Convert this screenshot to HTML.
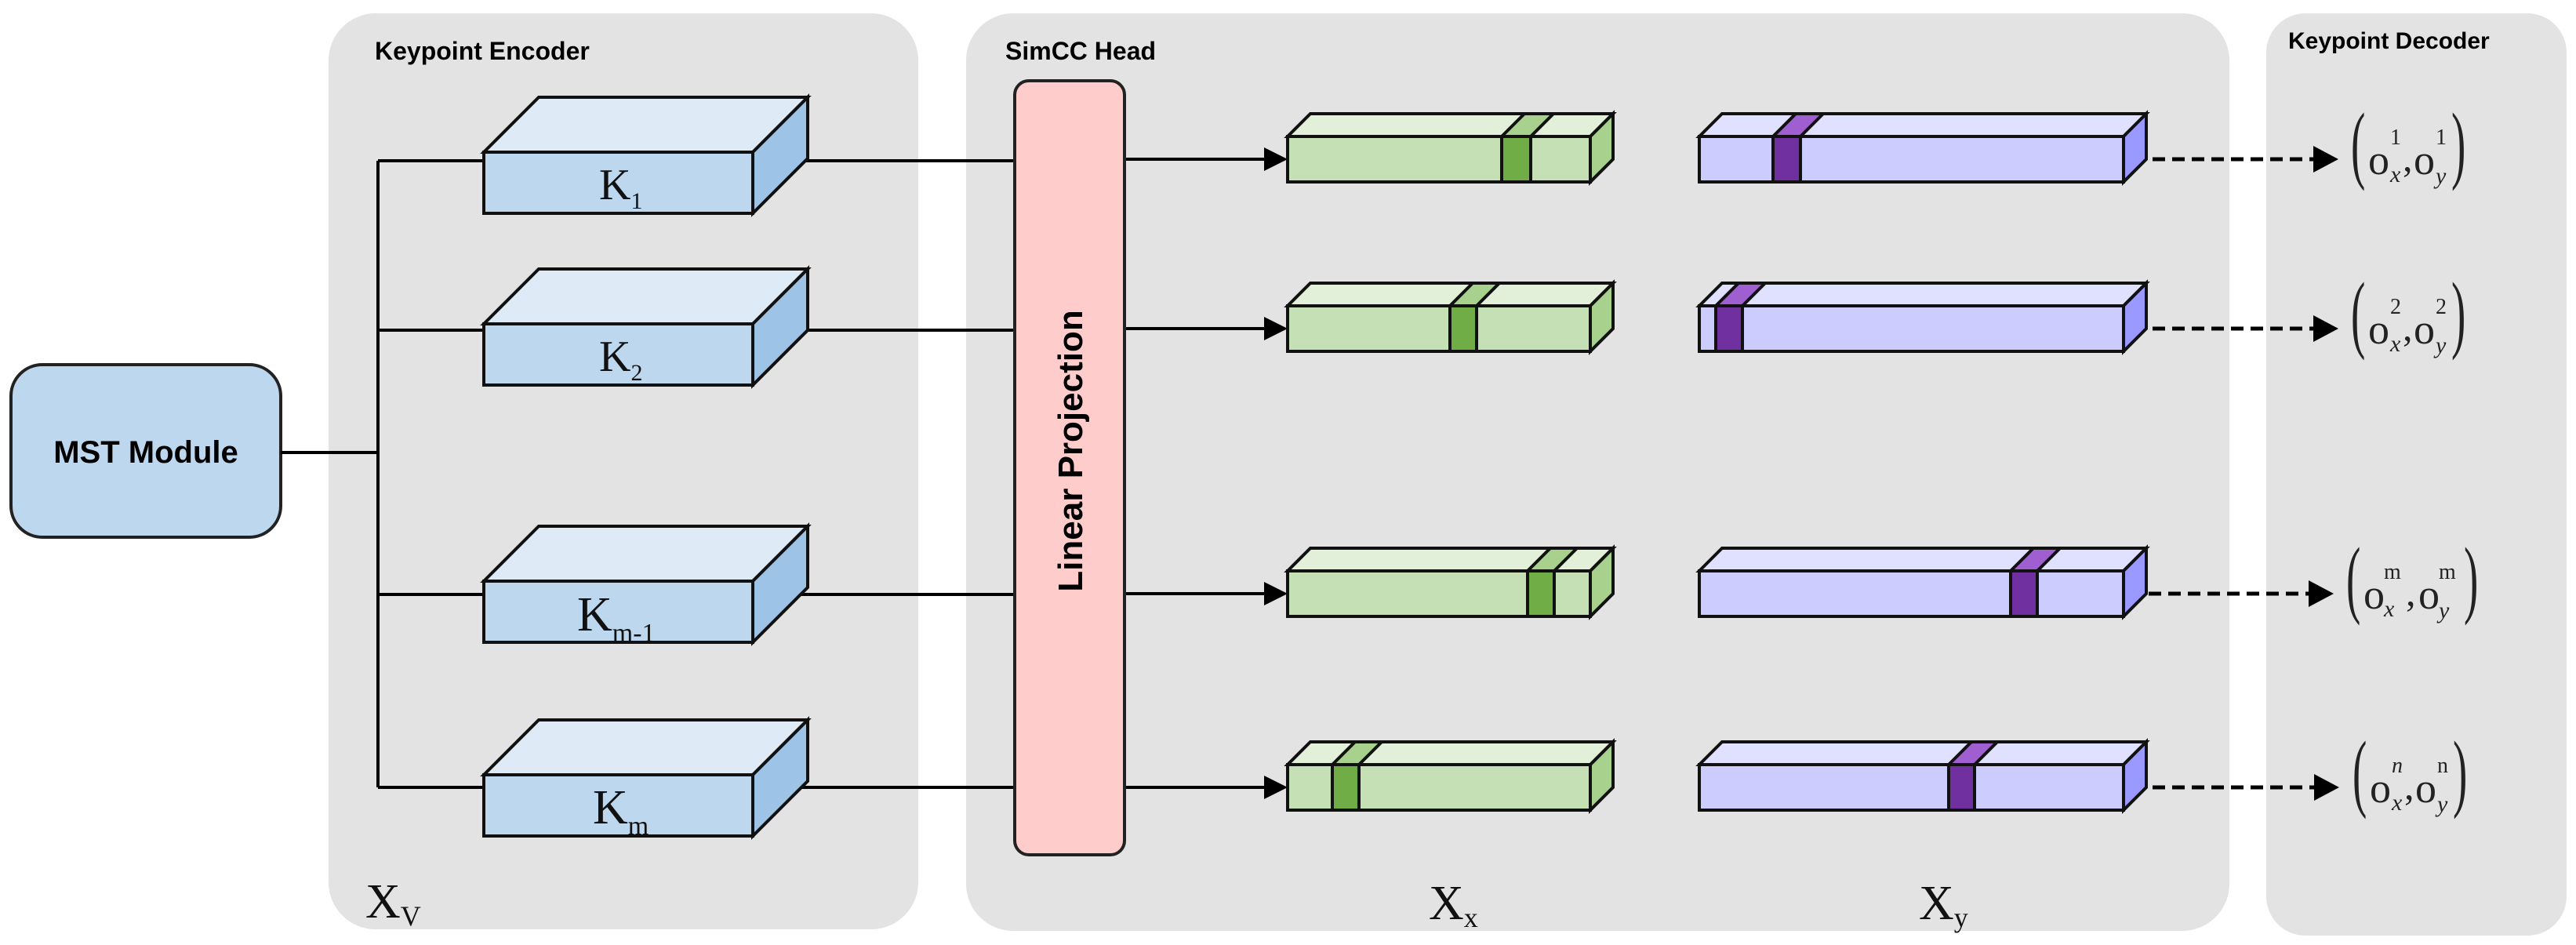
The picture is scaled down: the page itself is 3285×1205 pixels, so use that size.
<!DOCTYPE html>
<html><head><meta charset="utf-8"><style>
html,body{margin:0;padding:0;background:#fff}
svg{display:block}
.t{font-family:"Liberation Sans",sans-serif;font-weight:bold}
.s{font-family:"Liberation Serif",serif}
</style></head><body>
<svg width="3285" height="1205" viewBox="0 0 3285 1205" xmlns="http://www.w3.org/2000/svg">
<!-- panels -->
<rect x="419" y="17" width="752" height="1168" rx="60" fill="#e3e3e3"/>
<rect x="1232" y="17" width="1611" height="1170" rx="60" fill="#e3e3e3"/>
<rect x="2890" y="17" width="383" height="1176" rx="50" fill="#e3e3e3"/>
<text class="t" x="478" y="76" font-size="32">Keypoint Encoder</text>
<text class="t" x="1282" y="76" font-size="32">SimCC Head</text>
<text class="t" x="2918" y="62" font-size="30">Keypoint Decoder</text>

<!-- MST -->
<rect x="14" y="465" width="344" height="220" rx="40" fill="#bdd7ee" stroke="#222" stroke-width="4"/>
<text class="t" x="186" y="590" font-size="40" text-anchor="middle">MST Module</text>

<g stroke="#000" stroke-width="4" fill="none">
<line x1="358" y1="577" x2="482" y2="577"/>
<line x1="482" y1="205" x2="482" y2="1004"/>
<line x1="482" y1="205" x2="617" y2="205"/>
<line x1="482" y1="421" x2="617" y2="421"/>
<line x1="482" y1="758" x2="617" y2="758"/>
<line x1="482" y1="1004" x2="617" y2="1004"/>
<line x1="993" y1="205" x2="1293" y2="205"/>
<line x1="993" y1="421" x2="1293" y2="421"/>
<line x1="993" y1="758" x2="1293" y2="758"/>
<line x1="993" y1="1004" x2="1293" y2="1004"/>
<line x1="1434" y1="203" x2="1615" y2="203"/>
<line x1="1434" y1="419" x2="1615" y2="419"/>
<line x1="1434" y1="757" x2="1615" y2="757"/>
<line x1="1434" y1="1004" x2="1615" y2="1004"/>
</g>
<g fill="#000">
<path d="M1612,188L1642,203L1612,218z"/>
<path d="M1612,404L1642,419L1612,434z"/>
<path d="M1612,742L1642,757L1612,772z"/>
<path d="M1612,989L1642,1004L1612,1019z"/>
</g>

<!-- K boxes -->
<g stroke="#111" stroke-width="4" stroke-linejoin="miter">
<g transform="translate(0,194)">
<path d="M617,0L687,-70L1030,-70L960,0z" fill="#deebf7"/>
<path d="M960,0L1030,-70L1030,8L960,78z" fill="#9dc3e6"/>
<rect x="617" y="0" width="343" height="78" fill="#bdd7ee"/>
</g>
<g transform="translate(0,413)">
<path d="M617,0L687,-70L1030,-70L960,0z" fill="#deebf7"/>
<path d="M960,0L1030,-70L1030,8L960,78z" fill="#9dc3e6"/>
<rect x="617" y="0" width="343" height="78" fill="#bdd7ee"/>
</g>
<g transform="translate(0,741)">
<path d="M617,0L687,-70L1030,-70L960,0z" fill="#deebf7"/>
<path d="M960,0L1030,-70L1030,8L960,78z" fill="#9dc3e6"/>
<rect x="617" y="0" width="343" height="78" fill="#bdd7ee"/>
</g>
<g transform="translate(0,988)">
<path d="M617,0L687,-70L1030,-70L960,0z" fill="#deebf7"/>
<path d="M960,0L1030,-70L1030,8L960,78z" fill="#9dc3e6"/>
<rect x="617" y="0" width="343" height="78" fill="#bdd7ee"/>
</g>
</g>
<g class="s" fill="#111">
<text x="764" y="254" font-size="56">K<tspan font-size="30" dy="12">1</tspan></text>
<text x="764" y="473" font-size="56">K<tspan font-size="30" dy="12">2</tspan></text>
<text x="736" y="804" font-size="62">K<tspan font-size="34" dy="14">m-1</tspan></text>
<text x="756" y="1050" font-size="62">K<tspan font-size="34" dy="14">m</tspan></text>
</g>

<!-- Linear projection -->
<rect x="1294" y="103" width="140" height="987" rx="18" fill="#ffcccc" stroke="#222" stroke-width="4"/>
<text class="t" font-size="44" text-anchor="middle" transform="translate(1380,575) rotate(-90)">Linear Projection</text>

<!-- green & purple rows -->
<g stroke="#111" stroke-width="4">
<g transform="translate(0,203)">
<path d="M1642,-29L1671,-58L2057,-58L2028,-29z" fill="#e2f0d9"/>
<path d="M2028,-29L2057,-58L2057,0L2028,29z" fill="#a9d18e"/>
<rect x="1642" y="-29" width="386" height="58" fill="#c5e0b4"/>
<path d="M1915,-29L1944,-58L1981,-58L1952,-29z" fill="#a9d18e"/>
<rect x="1915" y="-29" width="37" height="58" fill="#70ad47"/>
<path d="M2167,-29L2196,-58L2737,-58L2708,-29z" fill="#e0e0ff"/>
<path d="M2708,-29L2737,-58L2737,0L2708,29z" fill="#9999ff"/>
<rect x="2167" y="-29" width="541" height="58" fill="#ccccff"/>
<path d="M2261,-29L2290,-58L2325,-58L2296,-29z" fill="#a05fd0"/>
<rect x="2261" y="-29" width="35" height="58" fill="#7030a0"/>
</g>
<g transform="translate(0,419)">
<path d="M1642,-29L1671,-58L2057,-58L2028,-29z" fill="#e2f0d9"/>
<path d="M2028,-29L2057,-58L2057,0L2028,29z" fill="#a9d18e"/>
<rect x="1642" y="-29" width="386" height="58" fill="#c5e0b4"/>
<path d="M1849,-29L1878,-58L1912,-58L1883,-29z" fill="#a9d18e"/>
<rect x="1849" y="-29" width="34" height="58" fill="#70ad47"/>
<path d="M2167,-29L2196,-58L2737,-58L2708,-29z" fill="#e0e0ff"/>
<path d="M2708,-29L2737,-58L2737,0L2708,29z" fill="#9999ff"/>
<rect x="2167" y="-29" width="541" height="58" fill="#ccccff"/>
<path d="M2188,-29L2217,-58L2251,-58L2222,-29z" fill="#a05fd0"/>
<rect x="2188" y="-29" width="34" height="58" fill="#7030a0"/>
</g>
<g transform="translate(0,757)">
<path d="M1642,-29L1671,-58L2057,-58L2028,-29z" fill="#e2f0d9"/>
<path d="M2028,-29L2057,-58L2057,0L2028,29z" fill="#a9d18e"/>
<rect x="1642" y="-29" width="386" height="58" fill="#c5e0b4"/>
<path d="M1948,-29L1977,-58L2011,-58L1982,-29z" fill="#a9d18e"/>
<rect x="1948" y="-29" width="34" height="58" fill="#70ad47"/>
<path d="M2167,-29L2196,-58L2737,-58L2708,-29z" fill="#e0e0ff"/>
<path d="M2708,-29L2737,-58L2737,0L2708,29z" fill="#9999ff"/>
<rect x="2167" y="-29" width="541" height="58" fill="#ccccff"/>
<path d="M2564,-29L2593,-58L2627,-58L2598,-29z" fill="#a05fd0"/>
<rect x="2564" y="-29" width="34" height="58" fill="#7030a0"/>
</g>
<g transform="translate(0,1004)">
<path d="M1642,-29L1671,-58L2057,-58L2028,-29z" fill="#e2f0d9"/>
<path d="M2028,-29L2057,-58L2057,0L2028,29z" fill="#a9d18e"/>
<rect x="1642" y="-29" width="386" height="58" fill="#c5e0b4"/>
<path d="M1699,-29L1728,-58L1762,-58L1733,-29z" fill="#a9d18e"/>
<rect x="1699" y="-29" width="34" height="58" fill="#70ad47"/>
<path d="M2167,-29L2196,-58L2737,-58L2708,-29z" fill="#e0e0ff"/>
<path d="M2708,-29L2737,-58L2737,0L2708,29z" fill="#9999ff"/>
<rect x="2167" y="-29" width="541" height="58" fill="#ccccff"/>
<path d="M2485,-29L2514,-58L2547,-58L2518,-29z" fill="#a05fd0"/>
<rect x="2485" y="-29" width="33" height="58" fill="#7030a0"/>
</g>
</g>

<!-- dashed arrows -->
<g stroke="#000" stroke-width="5" stroke-dasharray="16,9">
<line x1="2745" y1="203" x2="2952" y2="203"/>
<line x1="2745" y1="419" x2="2952" y2="419"/>
<line x1="2740" y1="757" x2="2946" y2="757"/>
<line x1="2745" y1="1004" x2="2953" y2="1004"/>
</g>
<g fill="#000">
<path d="M2950,186L2982,203L2950,220z"/>
<path d="M2950,402L2982,419L2950,436z"/>
<path d="M2944,740L2976,757L2944,774z"/>
<path d="M2951,987L2983,1004L2951,1021z"/>
</g>

<!-- outputs -->
<g class="s" fill="#222">
<g transform="translate(2998,0)">
<text x="0" y="220" font-size="110" transform="scale(0.5,1)">(</text>
<text x="22" y="222" font-size="54">o</text>
<text x="50" y="184" font-size="28">1</text>
<text x="50" y="232" font-size="30" font-style="italic">x</text>
<text x="66" y="218" font-size="50">,</text>
<text x="80" y="222" font-size="54">o</text>
<text x="108" y="184" font-size="28">1</text>
<text x="108" y="234" font-size="30" font-style="italic">y</text>
<text x="256" y="220" font-size="110" transform="scale(0.5,1)">)</text>
</g>
<g transform="translate(2998,216)">
<text x="0" y="220" font-size="110" transform="scale(0.5,1)">(</text>
<text x="22" y="222" font-size="54">o</text>
<text x="50" y="184" font-size="28">2</text>
<text x="50" y="232" font-size="30" font-style="italic">x</text>
<text x="66" y="218" font-size="50">,</text>
<text x="80" y="222" font-size="54">o</text>
<text x="108" y="184" font-size="28">2</text>
<text x="108" y="234" font-size="30" font-style="italic">y</text>
<text x="256" y="220" font-size="110" transform="scale(0.5,1)">)</text>
</g>
<g transform="translate(2992,554)">
<text x="0" y="220" font-size="110" transform="scale(0.5,1)">(</text>
<text x="22" y="222" font-size="54">o</text>
<text x="48" y="184" font-size="28">m</text>
<text x="48" y="232" font-size="30" font-style="italic">x</text>
<text x="76" y="218" font-size="50">,</text>
<text x="92" y="222" font-size="54">o</text>
<text x="118" y="184" font-size="28">m</text>
<text x="118" y="234" font-size="30" font-style="italic">y</text>
<text x="300" y="220" font-size="110" transform="scale(0.5,1)">)</text>
</g>
<g transform="translate(3000,801)">
<text x="0" y="220" font-size="110" transform="scale(0.5,1)">(</text>
<text x="22" y="222" font-size="54">o</text>
<text x="50" y="184" font-size="28" font-style="italic">n</text>
<text x="50" y="232" font-size="30" font-style="italic">x</text>
<text x="66" y="218" font-size="50">,</text>
<text x="80" y="222" font-size="54">o</text>
<text x="108" y="184" font-size="28">n</text>
<text x="108" y="234" font-size="30" font-style="italic">y</text>
<text x="256" y="220" font-size="110" transform="scale(0.5,1)">)</text>
</g>
</g>

<!-- bottom labels -->
<g class="s" fill="#111">
<text x="466" y="1170" font-size="62">X<tspan font-size="36" dy="10">V</tspan></text>
<text x="1822" y="1172" font-size="62">X<tspan font-size="36" dy="10">x</tspan></text>
<text x="2447" y="1172" font-size="62">X<tspan font-size="36" dy="10">y</tspan></text>
</g>
</svg>
</body></html>
